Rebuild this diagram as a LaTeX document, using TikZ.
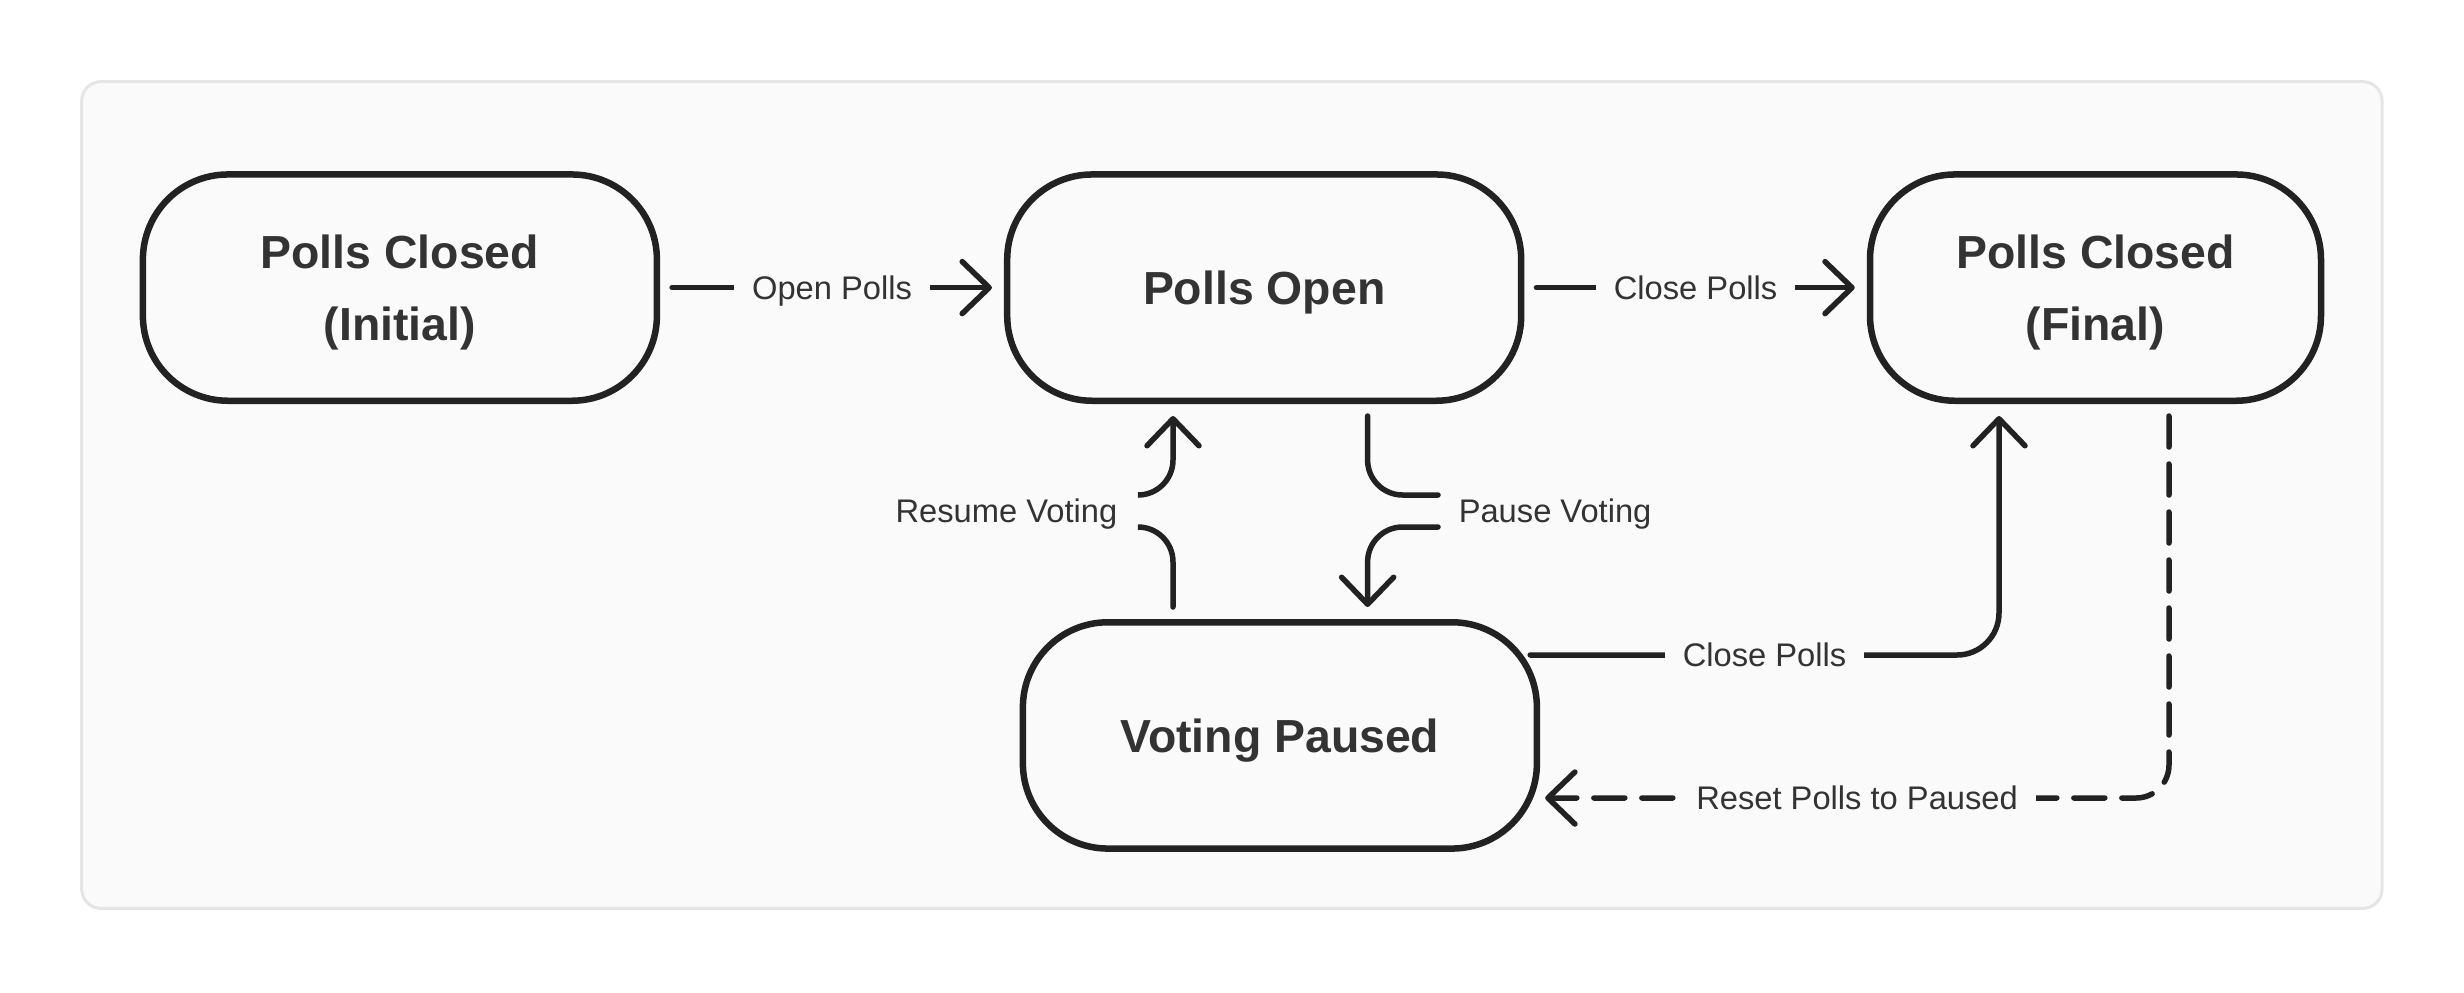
\documentclass[tikz,border=0pt]{standalone}
\usepackage{fontspec}
\setmainfont{Liberation Sans}
\usetikzlibrary{arrows.meta}
\definecolor{PanelFill}{HTML}{FAFAFA}
\definecolor{PanelLine}{HTML}{E5E5E5}
\definecolor{StateInk}{HTML}{222222}
\definecolor{LabelInk}{HTML}{333333}

\begin{document}
\begin{tikzpicture}[draw=StateInk,text=LabelInk,line width=0.055cm,
  state/.style={draw=StateInk,line width=0.065cm,fill=PanelFill,rounded corners=0.85cm,
    minimum width=5.14cm,minimum height=2.263cm,align=center,text depth=0pt,
    font=\bfseries\fontsize{13.2}{20.5}\selectfont},
  trans/.style={line cap=round,-{Straight Barb[length=2.7mm,width=5.2mm,round]},
    shorten <=0.12cm,shorten >=0.12cm},
  tlabel/.style={fill=PanelFill,sharp corners,inner xsep=0.18cm,inner ysep=0.07cm,
    text depth=0pt,font=\fontsize{9.3}{11}\selectfont}]
  \fill[white] (0,0) rectangle (24.64,-9.92);
  \useasboundingbox (0,0) rectangle (24.64,-9.92);
  \draw[draw=PanelLine,line width=0.03cm,fill=PanelFill,rounded corners=0.19cm]
    (0.817,-0.817) rectangle (23.82,-9.083);

  \node[state] (closedA) at (3.999,-2.876) {Polls Closed\\(Initial)};
  \node[state] (open) at (12.642,-2.876) {Polls Open};
  \node[state,minimum width=4.51cm] (closedB) at (20.955,-2.876) {Polls Closed\\(Final)};
  \node[state] (paused) at (12.799,-7.354) {Voting Paused};

  \coordinate (resumeX) at (11.73,0);
  \coordinate (pauseX) at (13.676,0);
  \coordinate (closeX) at (19.99,-6.55);
  \coordinate (resetX) at (21.69,-7.98);

  \draw[trans] (closedA) -- node[tlabel] (lOpen) {Open Polls} (open);
  \draw[trans] (open) -- node[tlabel] (lCloseA) {Close Polls} (closedB);

  % resume / pause loop between open and paused
  \node[tlabel,anchor=east] (lResume) at (11.38,-5.11) {Resume Voting};
  \node[tlabel,anchor=west] (lPause) at (14.38,-5.11) {Pause Voting};
  \draw[line cap=round,rounded corners=0.35cm,shorten <=0.12cm]
    (paused.north -| resumeX) |- ([yshift=-0.16cm]lResume.east);
  \draw[trans,shorten <=0pt,rounded corners=0.35cm]
    ([yshift=0.16cm]lResume.east) -| (open.south -| resumeX);
  \draw[line cap=round,rounded corners=0.35cm,shorten <=0.12cm]
    (open.south -| pauseX) |- ([yshift=0.16cm]lPause.west);
  \draw[trans,shorten <=0pt,rounded corners=0.35cm]
    ([yshift=-0.16cm]lPause.west) -| (paused.north -| pauseX);

  \draw[trans,shorten <=0pt,rounded corners=0.42cm]
    ([xshift=-0.1cm]paused.east |- closeX) -- node[tlabel] (lCloseB) {Close Polls}
    (closeX) -- (closedB.south -| closeX);
  \draw[trans,dash pattern=on 0.31cm off 0.17cm,rounded corners=0.33cm,shorten >=0pt]
    (closedB.south -| resetX) |- node[tlabel,pos=0.75] (lReset) {Reset Polls to Paused}
    ([shift={(0.05,-0.626)}]paused.east);
\end{tikzpicture}
\end{document}
